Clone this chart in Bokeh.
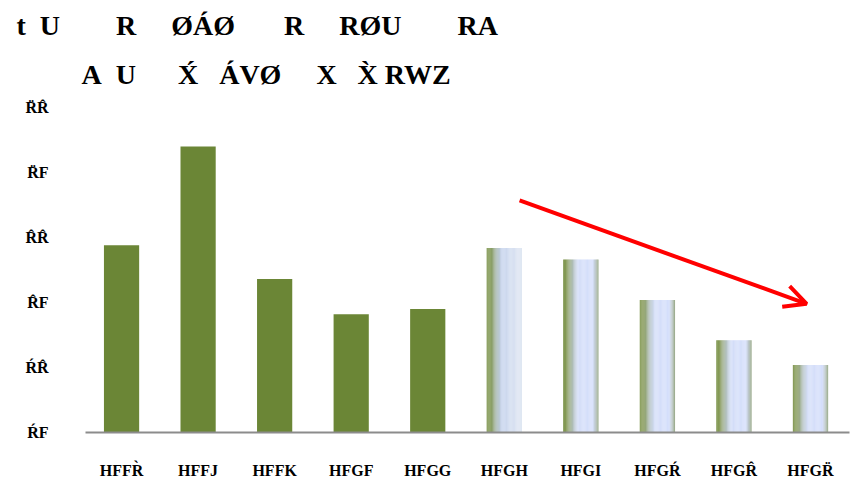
from bokeh.plotting import figure
from bokeh.models import FixedTicker, Title, Arrow, OpenHead, ColumnDataSource, Range1d
from bokeh.embed import file_html
from bokeh.resources import INLINE

# ---- data ----
categories = ["HFFR\u0300", "HFFJ", "HFFK", "HFGF", "HFGG", "HFGH", "HFGI", "HFG\u0154", "HFGR\u0302", "HFGR\u0308"]
values = [54.4, 62.0, 51.8, 49.1, 49.5, 54.2, 53.3, 50.2, 47.1, 45.2]
y_ticks = [40, 45, 50, 55, 60, 65]
y_tick_labels = ["\u0154F", "\u0154R\u0302", "R\u0302F", "R\u0302R\u0302", "R\u0308F", "R\u0308R\u0302"]
S = "\u00a0"
title_line1 = "t" + S * 2 + "U" + S * 8 + "R" + S * 5 + "\u00d8\u00c1\u00d8" + S * 7 + "R" + S * 5 + "R\u00d8U" + S * 8 + "RA"
title_line2 = "A" + S * 2 + "U" + S * 6 + "X\u0301" + S * 3 + "\u00c1V\u00d8" + S * 5 + "X" + S * 3 + "X\u0300" + S + "RWZ"
arrow_x = [5.2, 8.95]
arrow_y = [57.85, 49.9]
gradient_from = 5  # bars from this index on are drawn with a gradient

FONT = "Liberation Serif"
GREEN = "#6b8636"

p = figure(width=852, height=484, output_backend="svg", toolbar_location=None,
           title=None, x_range=Range1d(-0.471, 9.51), y_range=Range1d(40, 65.54),
           min_border_left=85, min_border_right=3, min_border_bottom=52, min_border_top=100)
p.outline_line_color = None
p.xgrid.grid_line_color = None
p.ygrid.grid_line_color = None
p.background_fill_color = "white"
p.border_fill_color = "white"

BAR_W = 0.46
idx = list(range(len(categories)))

# solid bars
solid = ColumnDataSource(dict(x=[i for i in idx if i < gradient_from],
                              top=[values[i] for i in idx if i < gradient_from]))
p.vbar(x="x", top="top", bottom=40, width=BAR_W, source=solid,
       fill_color=GREEN, line_color=None)

def hex2rgb(h):
    h = h.lstrip("#")
    return tuple(int(h[k:k + 2], 16) for k in (0, 2, 4))

def interp(stops, t):
    for (t0, c0), (t1, c1) in zip(stops, stops[1:]):
        if t0 <= t <= t1:
            a = (t - t0) / (t1 - t0) if t1 > t0 else 0
            r0, g0, b0 = hex2rgb(c0)
            r1, g1, b1 = hex2rgb(c1)
            return "#%02x%02x%02x" % (round(r0 + (r1 - r0) * a), round(g0 + (g1 - g0) * a), round(b0 + (b1 - b0) * a))
    return stops[-1][1]

stops_first = [(0, "#6f8a3a"), (0.12, "#7f9653"), (0.3, "#a9b9b8"), (0.42, "#c4d2ec"), (1.0, "#dfe6f2")]
stops_other = [(0, "#728c3c"), (0.12, "#85995a"), (0.3, "#b4c2c6"), (0.42, "#d3ddf8"), (0.84, "#d3ddfb"),
               (0.92, "#b8c4c6"), (1.0, "#8fa27c")]

N = 40
L, R, T, C = [], [], [], []
for i in idx:
    if i < gradient_from:
        continue
    stops = stops_first if i == gradient_from else stops_other
    for k in range(N):
        t = (k + 0.5) / N
        L.append(i - BAR_W / 2 + BAR_W * k / N)
        R.append(i - BAR_W / 2 + BAR_W * (k + 1) / N + 0.001)
        T.append(values[i])
        C.append(interp(stops, t))
grad = ColumnDataSource(dict(left=L, right=R, top=T, color=C))
p.quad(left="left", right="right", top="top", bottom=40, fill_color="color", line_color=None, source=grad)

# axes
p.xaxis.ticker = FixedTicker(ticks=idx)
p.xaxis.major_label_overrides = {i: c for i, c in zip(idx, categories)}
p.xaxis.axis_line_color = "#8c8c8c"
p.xaxis.axis_line_width = 2
p.xaxis.major_tick_line_color = None
p.xaxis.minor_tick_line_color = None
p.xaxis.major_tick_out = 0
p.xaxis.major_label_standoff = 29
p.xaxis.major_label_text_font = FONT
p.xaxis.major_label_text_font_style = "bold"
p.xaxis.major_label_text_font_size = "16px"
p.xaxis.major_label_text_line_height = 0.6
p.xaxis.major_label_text_color = "black"

p.yaxis.ticker = FixedTicker(ticks=y_ticks)
p.yaxis.major_label_overrides = {v: s for v, s in zip(y_ticks, y_tick_labels)}
p.yaxis.axis_line_color = None
p.yaxis.major_tick_line_color = None
p.yaxis.minor_tick_line_color = None
p.yaxis.major_tick_out = 0
p.yaxis.major_label_standoff = 37
p.yaxis.major_label_text_font = FONT
p.yaxis.major_label_text_font_style = "bold"
p.yaxis.major_label_text_font_size = "16px"
p.yaxis.major_label_text_color = "black"

# arrow
p.add_layout(Arrow(end=OpenHead(line_color="red", line_width=4, size=22),
                   x_start=arrow_x[0], y_start=arrow_y[0], x_end=arrow_x[1], y_end=arrow_y[1],
                   line_color="red", line_width=4))

# titles (first added is nearest to plot)
t2 = Title(text=title_line2, align="left", offset=-4, text_font=FONT, text_font_style="bold",
           text_font_size="28px", text_color="black", standoff=22)
t1 = Title(text=title_line1, align="left", offset=-69, text_font=FONT, text_font_style="bold",
           text_font_size="28px", text_color="black", standoff=9)
p.add_layout(t2, "above")
p.add_layout(t1, "above")

open("out.html", "w").write(file_html(p, INLINE))
